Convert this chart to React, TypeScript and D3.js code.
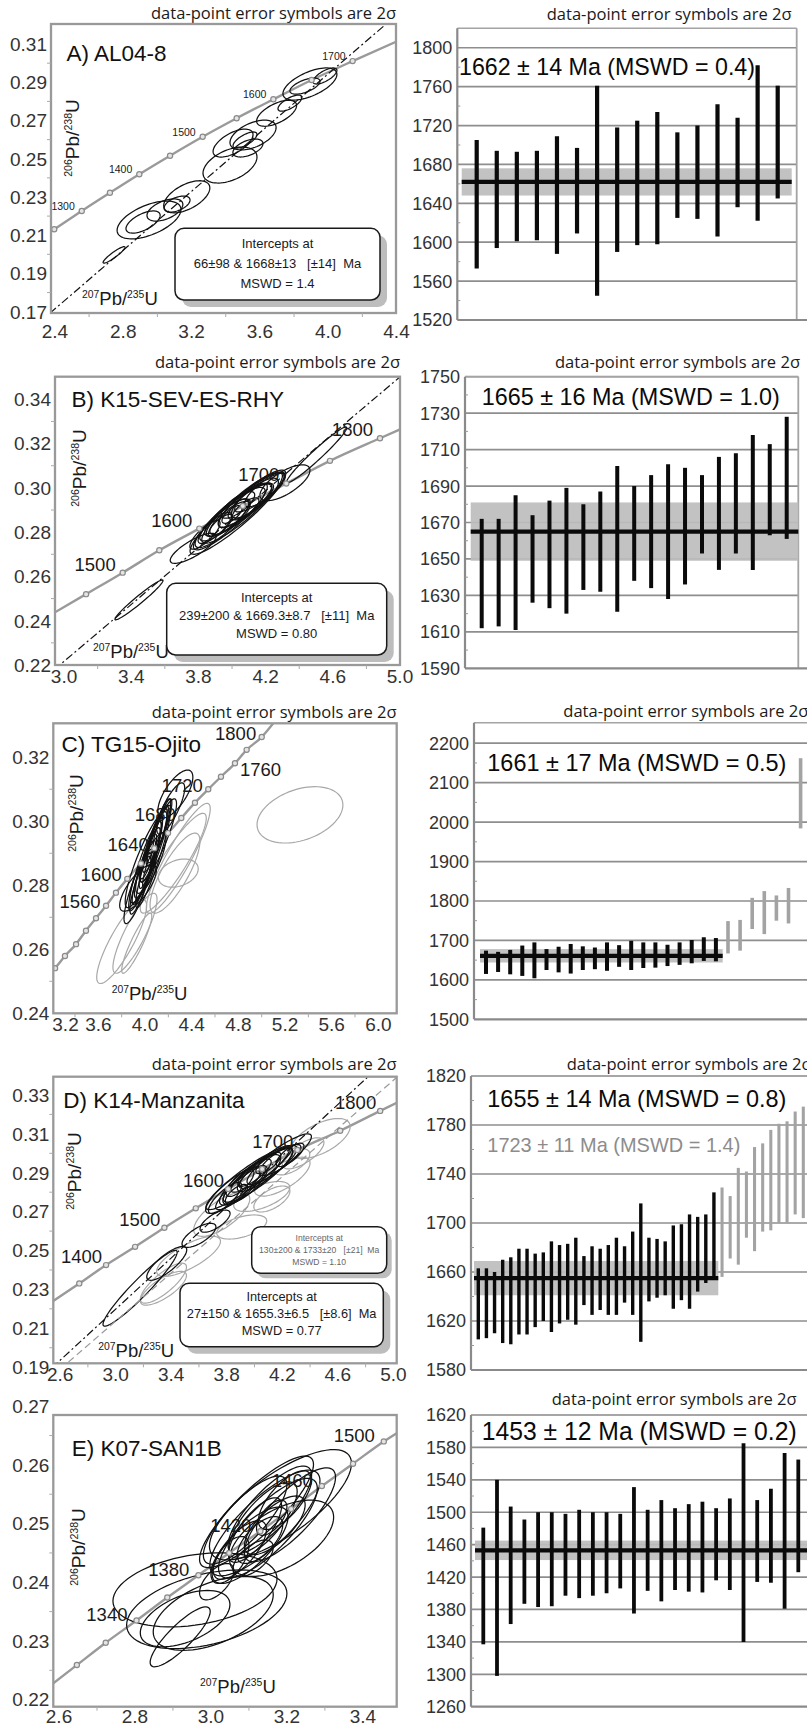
import React from 'react';
import * as d3 from 'd3';

const SANS = 'Liberation Sans, Arial, Helvetica, sans-serif';
const HUMANIST = 'Open Sans, Noto Sans, sans-serif';
const SUBTITLE = 'data-point error symbols are 2σ';

type Pt = [number, number];
// ellipse: [207Pb/235U, 206Pb/238U, half-extent x, half-extent y, error correlation]
type Ell = [number, number, number, number, number];

// ---------------- A) AL04-8 ----------------
const aMarkerAges = [1250, 1300, 1350, 1400, 1450, 1500, 1550, 1600, 1650, 1700];
const aMarkerPts: Pt[] = [[2.396, 0.2131], [2.557, 0.2227], [2.722, 0.2322], [2.894, 0.2419], [3.074, 0.2516], [3.265, 0.2615], [3.464, 0.2712], [3.679, 0.2811], [3.903, 0.2912], [4.143, 0.3011]];
const aCurveEnds: Pt[] = [[2.377, 0.2120], [4.397, 0.3112]];
const aLabelAges = [1300, 1400, 1500, 1600, 1700];
const aEllipses: Ell[] = [
  [2.746, 0.1997, 0.064, 0.0043, 0.92], [2.951, 0.2180, 0.187, 0.0099, 0.55], [2.916, 0.2169, 0.100, 0.0058, 0.6],
  [3.044, 0.2232, 0.105, 0.0058, 0.5], [3.172, 0.2301, 0.135, 0.0084, 0.55], [3.115, 0.2263, 0.076, 0.0042, 0.5],
  [3.425, 0.2467, 0.158, 0.0094, 0.45], [3.443, 0.2582, 0.117, 0.0073, 0.6], [3.560, 0.2624, 0.135, 0.0078, 0.5],
  [3.513, 0.2598, 0.070, 0.0042, 0.7], [3.530, 0.2556, 0.088, 0.0047, 0.5], [3.698, 0.2738, 0.117, 0.0068, 0.6],
  [3.893, 0.2891, 0.158, 0.0084, 0.6], [3.864, 0.2880, 0.088, 0.0042, 0.6], [3.981, 0.2933, 0.070, 0.0042, 0.7],
  [3.776, 0.2791, 0.070, 0.0042, 0.7],
];
const aDiscordia: Pt[] = [[2.37, 0.16915], [4.45, 0.3290]];
const aXTicks = [2.4, 2.8, 3.2, 3.6, 4.0, 4.4];
const aYTicks = [0.17, 0.19, 0.21, 0.23, 0.25, 0.27, 0.29, 0.31];
const aIntercept = ['Intercepts at', '66±98 & 1668±13   [±14]  Ma', 'MSWD = 1.4'];
const aAgeLo = [1573, 1594, 1601, 1602, 1588, 1609, 1545, 1590, 1597, 1598, 1625, 1624, 1606, 1636, 1622, 1645];
const aAgeHi = [1705, 1694, 1693, 1694, 1709, 1697, 1761, 1718, 1725, 1734, 1713, 1720, 1742, 1728, 1782, 1761];
const aMean = { age: 1662, err: 14, mswd: '0.4' };
const aAgeTicks = [1520, 1560, 1600, 1640, 1680, 1720, 1760, 1800];

// ---------------- B) K15-SEV-ES-RHY ----------------
const bMarkerAges = [1450, 1500, 1550, 1600, 1650, 1700, 1750, 1800];
const bMarkerPts: Pt[] = [[3.131, 0.2520], [3.349, 0.2617], [3.567, 0.2718], [3.805, 0.2816], [4.064, 0.2918], [4.323, 0.3020], [4.583, 0.3122], [4.881, 0.3224]];
const bCurveEnds: Pt[] = [[2.946, 0.2438], [5.0, 0.3264]];
const bLabelAges = [1500, 1600, 1700, 1800];
const bEllipses: Ell[] = [
  [3.446, 0.2494, 0.143, 0.0090, 0.97], [3.769, 0.2727, 0.137, 0.0068, 0.8], [4.504, 0.3149, 0.179, 0.0126, 0.97],
  [4.315, 0.3023, 0.149, 0.0081, 0.7], [3.898, 0.2819, 0.10, 0.0070, 0.8], [3.958, 0.2855, 0.15, 0.0095, 0.85],
  [4.017, 0.2892, 0.18, 0.0110, 0.85], [4.077, 0.2923, 0.16, 0.0100, 0.85], [4.136, 0.2954, 0.14, 0.0090, 0.8],
  [4.196, 0.2990, 0.12, 0.0075, 0.8], [4.047, 0.2901, 0.20, 0.0120, 0.88], [4.107, 0.2937, 0.13, 0.0080, 0.8],
  [3.988, 0.2864, 0.12, 0.0075, 0.8], [3.839, 0.2788, 0.09, 0.0065, 0.8], [4.166, 0.2981, 0.15, 0.0090, 0.85],
  [4.035, 0.2923, 0.10, 0.0060, 0.75], [3.930, 0.2830, 0.07, 0.0050, 0.75], [4.080, 0.2905, 0.08, 0.0050, 0.75],
  [4.000, 0.2880, 0.06, 0.0040, 0.7], [4.030, 0.2885, 0.28, 0.0185, 0.92], [3.990, 0.2870, 0.22, 0.0150, 0.9],
  [4.060, 0.2910, 0.24, 0.0160, 0.9], [3.940, 0.2840, 0.16, 0.0110, 0.85], [4.120, 0.2950, 0.20, 0.0130, 0.88],
];
const bDiscordia: Pt[] = [[2.94, 0.2178], [5.02, 0.3514]];
const bXTicks = [3.0, 3.4, 3.8, 4.2, 4.6, 5.0];
const bYTicks = [0.22, 0.24, 0.26, 0.28, 0.30, 0.32, 0.34];
const bIntercept = ['Intercepts at', '239±200 & 1669.3±8.7   [±11]  Ma', 'MSWD = 0.80'];
const bAgeLo = [1612, 1613, 1611, 1626, 1623, 1620, 1633, 1632, 1621, 1638, 1634, 1628, 1636, 1653, 1644, 1653, 1644, 1663, 1661];
const bAgeHi = [1672, 1672, 1685, 1674, 1682, 1689, 1680, 1687, 1701, 1690, 1696, 1702, 1700, 1696, 1706, 1708, 1718, 1713, 1728];
const bMean = { age: 1665, err: 16, mswd: '1.0' };
const bAgeTicks = [1590, 1610, 1630, 1650, 1670, 1690, 1710, 1730, 1750];

// ---------------- C) TG15-Ojito ----------------
const cMarkerAges = [1460, 1480, 1500, 1520, 1540, 1560, 1580, 1600, 1620, 1640, 1660, 1680, 1700, 1720, 1740, 1760, 1780, 1800];
const cMarkerPts: Pt[] = [[3.229, 0.2541], [3.314, 0.2579], [3.409, 0.2616], [3.494, 0.2658], [3.580, 0.2697], [3.666, 0.2736], [3.751, 0.2777], [3.848, 0.2820], [3.965, 0.2868], [4.079, 0.2916], [4.197, 0.2963], [4.311, 0.3010], [4.428, 0.3058], [4.542, 0.3100], [4.651, 0.3139], [4.771, 0.3181], [4.871, 0.3223], [5.000, 0.3263]];
const cCurveEnds: Pt[] = [[3.214, 0.2535], [5.099, 0.3306]];
const cLabelAges = [1560, 1600, 1640, 1680, 1720, 1800];
const cLabelRightAges = [1760];
const cEllipses: Ell[] = [
  [3.960, 0.2800, 0.090, 0.0090, 0.85], [3.990, 0.2840, 0.100, 0.0100, 0.88], [4.020, 0.2870, 0.110, 0.0110, 0.88],
  [4.050, 0.2900, 0.100, 0.0110, 0.9], [4.080, 0.2930, 0.120, 0.0120, 0.9], [4.100, 0.2950, 0.090, 0.0090, 0.85],
  [4.030, 0.2890, 0.070, 0.0070, 0.85], [4.060, 0.2920, 0.080, 0.0080, 0.85], [4.120, 0.2970, 0.100, 0.0100, 0.88],
  [4.000, 0.2860, 0.140, 0.0140, 0.9], [4.070, 0.2890, 0.150, 0.0160, 0.92], [3.940, 0.2790, 0.120, 0.0110, 0.85],
  [4.150, 0.2990, 0.080, 0.0080, 0.85], [4.040, 0.2850, 0.060, 0.0060, 0.8], [4.090, 0.2960, 0.060, 0.0060, 0.8],
  [3.940, 0.2792, 0.157, 0.0073, 0.75], [4.260, 0.3085, 0.150, 0.0075, 0.7], [4.220, 0.3040, 0.120, 0.0080, 0.8],
  [4.010, 0.2880, 0.180, 0.0150, 0.88], [4.110, 0.2940, 0.160, 0.0130, 0.88], [3.980, 0.2830, 0.110, 0.0085, 0.8],
  [4.050, 0.2870, 0.130, 0.0095, 0.82],
];
const cGrayEllipses: Ell[] = [
  [5.328, 0.3020, 0.368, 0.0088, 0.35], [3.800, 0.2624, 0.214, 0.0131, 0.85], [3.914, 0.2650, 0.189, 0.0125, 0.85],
  [4.285, 0.2884, 0.274, 0.0172, 0.9], [4.257, 0.2838, 0.214, 0.0125, 0.8], [4.285, 0.2838, 0.171, 0.0044, 0.3],
  [4.242, 0.2869, 0.283, 0.0156, 0.9], [3.929, 0.2619, 0.129, 0.0094, 0.9],
];
const cXTicks = [3.2, 3.6, 4.0, 4.4, 4.8, 5.2, 5.6, 6.0];
const cYTicks = [0.24, 0.26, 0.28, 0.30, 0.32];
const cAgeLo = [1615, 1620, 1614, 1610, 1604, 1625, 1619, 1616, 1625, 1627, 1623, 1633, 1625, 1630, 1631, 1635, 1638, 1642, 1648, 1647];
const cAgeHi = [1674, 1671, 1676, 1687, 1695, 1678, 1684, 1691, 1685, 1682, 1695, 1688, 1699, 1695, 1695, 1689, 1695, 1701, 1708, 1706];
const cRejectLo = [1667, 1674, 1729, 1716, 1750, 1743, 1984];
const cRejectHi = [1749, 1752, 1808, 1825, 1814, 1833, 2162];
const cMean = { age: 1661, err: 17, mswd: '0.5' };
const cAgeTicks = [1500, 1600, 1700, 1800, 1900, 2000, 2100, 2200];

// ---------------- D) K14-Manzanita ----------------
const dMarkerAges = [1350, 1400, 1450, 1500, 1550, 1600, 1650, 1700, 1750, 1800];
const dMarkerPts: Pt[] = [[2.738, 0.2331], [2.931, 0.2425], [3.140, 0.2519], [3.351, 0.2617], [3.577, 0.2717], [3.810, 0.2816], [4.055, 0.2919], [4.309, 0.3017], [4.617, 0.3116], [4.905, 0.3218]];
const dCurveEnds: Pt[] = [[2.551, 0.2240], [5.024, 0.3260]];
const dLabelAges = [1400, 1500, 1600, 1700, 1800];
const dEllipses: Ell[] = [
  [3.176, 0.2306, 0.267, 0.0195, 0.95], [3.368, 0.2434, 0.144, 0.0087, 0.8], [3.600, 0.2578, 0.122, 0.0062, 0.7],
  [3.716, 0.2651, 0.108, 0.0057, 0.7], [3.848, 0.2811, 0.20, 0.0120, 0.85], [3.968, 0.2863, 0.22, 0.0130, 0.85],
  [4.076, 0.2914, 0.20, 0.0110, 0.85], [4.184, 0.2966, 0.15, 0.0080, 0.8], [4.256, 0.2992, 0.10, 0.0060, 0.75],
  [3.932, 0.2837, 0.16, 0.0100, 0.8], [3.788, 0.2770, 0.12, 0.0080, 0.8], [4.126, 0.2940, 0.18, 0.0100, 0.85],
  [4.025, 0.2889, 0.25, 0.0140, 0.88], [3.896, 0.2848, 0.10, 0.0070, 0.75], [4.000, 0.2900, 0.12, 0.0070, 0.8],
  [4.100, 0.2950, 0.09, 0.0055, 0.75], [3.870, 0.2790, 0.08, 0.0050, 0.7], [3.950, 0.2870, 0.30, 0.0160, 0.92],
  [4.150, 0.2960, 0.26, 0.0140, 0.9], [4.050, 0.2920, 0.22, 0.0120, 0.9], [3.900, 0.2820, 0.18, 0.0110, 0.88],
];
const dGrayEllipses: Ell[] = [
  [4.473, 0.3076, 0.216, 0.0103, 0.6], [4.268, 0.2956, 0.130, 0.0067, 0.6], [4.125, 0.2765, 0.130, 0.0067, 0.6],
  [3.908, 0.2621, 0.180, 0.0062, 0.5], [3.525, 0.2470, 0.230, 0.0103, 0.75], [3.344, 0.2332, 0.166, 0.0103, 0.8],
  [3.764, 0.2686, 0.202, 0.0113, 0.7], [4.052, 0.2778, 0.202, 0.0077, 0.6], [3.344, 0.2306, 0.166, 0.0087, 0.75],
  [4.200, 0.2880, 0.200, 0.0100, 0.7], [4.350, 0.3000, 0.150, 0.0080, 0.7],
];
const dDiscordia: Pt[] = [[2.54, 0.1896], [4.90, 0.3448]];
const dDiscordiaOld: Pt[] = [[2.60, 0.1889], [5.03, 0.3394]];
const dXTicks = [2.6, 3.0, 3.4, 3.8, 4.2, 4.6, 5.0];
const dYTicks = [0.19, 0.21, 0.23, 0.25, 0.27, 0.29, 0.31, 0.33];
const dInterceptOld = ['Intercepts at', '130±200 & 1733±20   [±21]  Ma', 'MSWD = 1.10'];
const dIntercept = ['Intercepts at', '27±150 & 1655.3±6.5   [±8.6]  Ma', 'MSWD = 0.77'];
const dAgeLo = [1605, 1606, 1610, 1602, 1601, 1609, 1609, 1615, 1620, 1611, 1618, 1621, 1617, 1633, 1625, 1629, 1625, 1625, 1635, 1625, 1603, 1636, 1639, 1641, 1630, 1637, 1630, 1644, 1651, 1654];
const dAgeHi = [1663, 1663, 1660, 1670, 1672, 1679, 1679, 1675, 1676, 1685, 1682, 1683, 1688, 1673, 1681, 1679, 1682, 1688, 1681, 1693, 1716, 1688, 1687, 1685, 1698, 1699, 1707, 1705, 1707, 1725];
const dOldLo = [1656, 1671, 1666, 1688, 1677, 1693, 1694, 1700, 1700, 1707, 1704];
const dOldHi = [1729, 1722, 1745, 1742, 1762, 1765, 1776, 1781, 1783, 1791, 1795];
const dMean = { age: 1655, err: 14, mswd: '0.8' };
const dOldMean = { age: 1723, err: 11, mswd: '1.4' };
const dAgeTicks = [1580, 1620, 1660, 1700, 1740, 1780, 1820];

// ---------------- E) K07-SAN1B ----------------
const eMarkerAges = [1300, 1320, 1340, 1360, 1380, 1400, 1420, 1440, 1460, 1480, 1500];
const eMarkerPts: Pt[] = [[2.647, 0.2259], [2.723, 0.2297], [2.804, 0.2335], [2.885, 0.2374], [2.967, 0.2412], [3.048, 0.2450], [3.130, 0.2487], [3.211, 0.2525], [3.292, 0.2564], [3.374, 0.2602], [3.455, 0.2640]];
const eCurveEnds: Pt[] = [[2.585, 0.2228], [3.489, 0.2654]];
const eLabelAges = [1340, 1380, 1420, 1460, 1500];
const eEllipses: Ell[] = [
  [2.958, 0.2387, 0.216, 0.0063, 0.3], [2.989, 0.2354, 0.211, 0.0067, 0.4], [2.932, 0.2338, 0.118, 0.0048, 0.5],
  [2.919, 0.2307, 0.079, 0.0051, 0.85], [3.006, 0.2347, 0.158, 0.0063, 0.5], [3.183, 0.2532, 0.187, 0.0094, 0.75],
  [3.186, 0.2475, 0.137, 0.0065, 0.55], [3.142, 0.2501, 0.145, 0.0090, 0.8], [3.015, 0.2401, 0.045, 0.0031, 0.6],
  [3.111, 0.2441, 0.053, 0.0031, 0.6], [3.137, 0.2506, 0.09, 0.0065, 0.75], [3.116, 0.2489, 0.07, 0.0055, 0.75],
  [3.155, 0.2523, 0.11, 0.0075, 0.8], [3.168, 0.2497, 0.08, 0.0050, 0.7], [3.103, 0.2463, 0.10, 0.0065, 0.75],
  [3.195, 0.2540, 0.07, 0.0050, 0.7], [3.090, 0.2506, 0.11, 0.0075, 0.8], [3.129, 0.2472, 0.06, 0.0040, 0.65],
  [3.076, 0.2455, 0.07, 0.0050, 0.7], [3.208, 0.2515, 0.12, 0.0080, 0.8], [3.150, 0.2492, 0.13, 0.0085, 0.8],
  [3.050, 0.2438, 0.05, 0.0040, 0.6], [3.160, 0.2510, 0.04, 0.0030, 0.6], [3.120, 0.2520, 0.15, 0.0095, 0.85],
];
const eXTicks = [2.6, 2.8, 3.0, 3.2, 3.4];
const eYTicks = [0.22, 0.23, 0.24, 0.25, 0.26, 0.27];
const eAgeLo = [1337, 1298, 1362, 1387, 1383, 1384, 1397, 1394, 1397, 1400, 1406, 1375, 1403, 1390, 1404, 1402, 1401, 1416, 1404, 1340, 1414, 1413, 1381, 1426];
const eAgeHi = [1481, 1540, 1507, 1491, 1500, 1500, 1498, 1503, 1500, 1500, 1498, 1531, 1503, 1515, 1505, 1510, 1513, 1505, 1517, 1585, 1515, 1529, 1573, 1565];
const eMean = { age: 1453, err: 12, mswd: '0.2' };
const eAgeTicks = [1260, 1300, 1340, 1380, 1420, 1460, 1500, 1540, 1580, 1620];

// ------------------------------------------------------------

interface Frame { x0: number; x1: number; y0: number; y1: number }
type Scale = d3.ScaleLinear<number, number>;

const lineGen = d3.line<Pt>();

function ellipsePath(e: Ell, xs: Scale, ys: Scale) {
  const [cx, cy, ex, ey, rho] = e;
  const s = Math.sqrt(1 - rho * rho);
  const pts: Pt[] = d3.range(72).map((i) => {
    const t = (i / 72) * Math.PI * 2;
    return [xs(cx + ex * Math.cos(t)), ys(cy + ey * (rho * Math.cos(t) + s * Math.sin(t)))];
  });
  return d3.line<Pt>().curve(d3.curveLinearClosed)(pts) || '';
}

function RatioText(props: { x: number; y: number; num: string; a: string; den: string; b: string; size: number; rotate?: boolean; anchor?: string }) {
  const { x, y, num, a, den, b, size, rotate, anchor } = props;
  const sup = size * 0.56;
  const up = size * 0.38;
  return (
    <text
      x={rotate ? 0 : x}
      y={rotate ? 0 : y}
      transform={rotate ? `translate(${x},${y}) rotate(-90)` : undefined}
      textAnchor={anchor || 'start'}
      fontFamily={SANS}
      fontSize={size}
      fill="#1a1a1a"
    >
      <tspan fontSize={sup} dy={-up}>{num}</tspan>
      <tspan dy={up}>{a}</tspan>
      <tspan fontSize={sup} dy={-up}>{den}</tspan>
      <tspan dy={up}>{b}</tspan>
    </text>
  );
}

function InterceptBox(props: { x: number; y: number; w: number; h: number; lines: string[]; size: number; offsets: number[]; color?: string; shadow?: number }) {
  const { x, y, w, h, lines, size, offsets, color, shadow } = props;
  const sh = shadow ?? 7;
  return (
    <g>
      <rect x={x + sh} y={y + sh} width={w} height={h} rx={9} fill="#bdbdbd" />
      <rect x={x} y={y} width={w} height={h} rx={9} fill="#fff" stroke="#1a1a1a" strokeWidth={1.5} />
      {lines.map((t, i) => (
        <text key={i} x={x + w / 2} y={y + offsets[i]} textAnchor="middle" fontFamily={SANS} fontSize={size}
          fill={color || '#1a1a1a'} style={{ whiteSpace: 'pre' }}>{t}</text>
      ))}
    </g>
  );
}

interface ConcordiaProps {
  id: string;
  frame: Frame;
  xDomain: Pt;
  yDomain: Pt;
  xTicks: number[];
  yTicks: number[];
  xDigits: number;
  yDigits: number;
  xLabelGap: number;
  markerAges: number[];
  markerPts: Pt[];
  curveEnds: Pt[];
  labelAges: number[];
  labelRightAges?: number[];
  labelSize: number;
  labelDx: number;
  labelDy: number;
  ellipses: Ell[];
  grayEllipses?: Ell[];
  discordia?: Pt[];
  discordiaOld?: Pt[];
  title: string;
  titlePos: Pt;
  yTitlePos: Pt;
  xTitlePos: Pt;
  subtitleY?: number;
  children?: React.ReactNode;
}

function ConcordiaPanel(p: ConcordiaProps) {
  const { frame } = p;
  const xs = d3.scaleLinear().domain(p.xDomain).range([frame.x0, frame.x1]);
  const ys = d3.scaleLinear().domain(p.yDomain).range([frame.y1, frame.y0]);
  const curve = d3.line<Pt>().x((d) => xs(d[0])).y((d) => ys(d[1])).curve(d3.curveMonotoneX);
  const curvePts: Pt[] = [p.curveEnds[0], ...p.markerPts, p.curveEnds[1]];
  const straight = (pts: Pt[]) => lineGen(pts.map((d) => [xs(d[0]), ys(d[1])] as Pt)) || '';
  const xStep = p.xTicks[1] - p.xTicks[0];
  const yStep = p.yTicks[1] - p.yTicks[0];
  const xMinor = p.xTicks.map((t) => t + xStep / 2).filter((t) => xs(t) < frame.x1 - 2 && xs(t) > frame.x0 + 2);
  const yMinor = p.yTicks.map((t) => t + yStep / 2).filter((t) => ys(t) > frame.y0 + 2 && ys(t) < frame.y1 - 2);
  const clip = `clip-${p.id}`;
  return (
    <g>
      <defs>
        <clipPath id={clip}>
          <rect x={frame.x0} y={frame.y0} width={frame.x1 - frame.x0} height={frame.y1 - frame.y0} />
        </clipPath>
      </defs>
      {p.subtitleY !== undefined && (
        <text x={frame.x1} y={p.subtitleY} textAnchor="end" fontFamily={HUMANIST} fontSize={15.5} fill="#1a1a1a"
          textLength={245} lengthAdjust="spacingAndGlyphs">{SUBTITLE}</text>
      )}
      <g clipPath={`url(#${clip})`}>
        <path d={curve(curvePts) || ''} fill="none" stroke="#9a9a9a" strokeWidth={2.4} />
        {(p.grayEllipses || []).map((e, i) => (
          <path key={`g${i}`} d={ellipsePath(e, xs, ys)} fill="none" stroke="#a8a8a8" strokeWidth={1.2} />
        ))}
        {p.ellipses.map((e, i) => (
          <path key={`e${i}`} d={ellipsePath(e, xs, ys)} fill="none" stroke="#111" strokeWidth={1.25} />
        ))}
        {p.discordiaOld && (
          <path d={straight(p.discordiaOld)} fill="none" stroke="#9a9a9a" strokeWidth={1.2} strokeDasharray="7,4" />
        )}
        {p.discordia && (
          <path d={straight(p.discordia)} fill="none" stroke="#111" strokeWidth={1.2} strokeDasharray="8,3,2,3" />
        )}
        {p.markerPts.map((d, i) => (
          <circle key={`m${i}`} cx={xs(d[0])} cy={ys(d[1])} r={2.6} fill="#e4e4e4" stroke="#8a8a8a" strokeWidth={1.2} />
        ))}
      </g>
      {p.labelAges.map((age) => {
        const i = p.markerAges.indexOf(age);
        const d = p.markerPts[i];
        return (
          <text key={`l${age}`} x={xs(d[0]) + p.labelDx} y={ys(d[1]) + p.labelDy} textAnchor="end"
            fontFamily={SANS} fontSize={p.labelSize} fill="#1a1a1a">{age}</text>
        );
      })}
      {(p.labelRightAges || []).map((age) => {
        const i = p.markerAges.indexOf(age);
        const d = p.markerPts[i];
        return (
          <text key={`r${age}`} x={xs(d[0]) + 5} y={ys(d[1]) + 12.5} textAnchor="start"
            fontFamily={SANS} fontSize={p.labelSize} fill="#1a1a1a">{age}</text>
        );
      })}
      <rect x={frame.x0} y={frame.y0} width={frame.x1 - frame.x0} height={frame.y1 - frame.y0} fill="none"
        stroke="#999" strokeWidth={2.3} />
      {xMinor.map((t, i) => (
        <line key={`xm${i}`} x1={xs(t)} x2={xs(t)} y1={frame.y1} y2={frame.y1 + 4} stroke="#aaa" strokeWidth={1} />
      ))}
      {yMinor.map((t, i) => (
        <line key={`ym${i}`} x1={frame.x0 - 4} x2={frame.x0} y1={ys(t)} y2={ys(t)} stroke="#aaa" strokeWidth={1} />
      ))}
      {p.yTicks.map((t) => (
        <text key={`yt${t}`} x={frame.x0 - 4} y={ys(t)} dy="0.36em" textAnchor="end" fontFamily={SANS} fontSize={19}
          fill="#333">{t.toFixed(p.yDigits)}</text>
      ))}
      {p.xTicks.map((t) => {
        const atEdge = xs(t) < frame.x0 + 0.5;
        return (
          <text key={`xt${t}`} x={atEdge ? frame.x0 - 1 : xs(t)} y={frame.y1 + p.xLabelGap} textAnchor={atEdge ? 'start' : 'middle'}
            fontFamily={SANS} fontSize={19} fill="#333">{t.toFixed(p.xDigits)}</text>
        );
      })}
      <text x={p.titlePos[0]} y={p.titlePos[1]} fontFamily={SANS} fontSize={22.5} fill="#111">{p.title}</text>
      <RatioText x={p.yTitlePos[0]} y={p.yTitlePos[1]} num="206" a="Pb/" den="238" b="U" size={19} rotate anchor="middle" />
      <RatioText x={p.xTitlePos[0]} y={p.xTitlePos[1]} num="207" a="Pb/" den="235" b="U" size={18.5} />
      {p.children}
    </g>
  );
}

interface MeanProps {
  frame: Frame;
  yDomain: Pt;
  ticks: number[];
  lo: number[];
  hi: number[];
  rejectLo?: number[];
  rejectHi?: number[];
  barRange: Pt;
  meanRange: Pt;
  barWidth: number;
  mean: { age: number; err: number; mswd: string };
  labelPos: Pt;
  labelSize: number;
  labelWidth: number;
  subtitlePos: Pt;
  rightFrame?: boolean;
  children?: (ys: Scale) => React.ReactNode;
}

function MeanPanel(p: MeanProps) {
  const { frame } = p;
  const ys = d3.scaleLinear().domain(p.yDomain).range([frame.y1, frame.y0]);
  const n = p.lo.length + (p.rejectLo ? p.rejectLo.length : 0);
  const xb = d3.scalePoint<number>().domain(d3.range(n)).range(p.barRange);
  const step = p.ticks[1] - p.ticks[0];
  const minor = p.ticks.map((t) => t + step / 2).filter((t) => ys(t) > frame.y0 + 2);
  const { age, err, mswd } = p.mean;
  return (
    <g>
      <text x={p.subtitlePos[0]} y={p.subtitlePos[1]} fontFamily={HUMANIST} fontSize={15.5} fill="#1a1a1a"
        textLength={245} lengthAdjust="spacingAndGlyphs">{SUBTITLE}</text>
      {p.ticks.slice(1).map((t) => (
        <line key={`g${t}`} x1={frame.x0} x2={frame.x1} y1={ys(t)} y2={ys(t)} stroke="#8e8e8e" strokeWidth={1.7} />
      ))}
      <line x1={frame.x0} x2={frame.x1} y1={frame.y0} y2={frame.y0} stroke="#a4a4a4" strokeWidth={1.6} />
      {p.rightFrame && (
        <line x1={frame.x1} x2={frame.x1} y1={frame.y0} y2={frame.y1} stroke="#a4a4a4" strokeWidth={1.8} />
      )}
      <rect x={p.meanRange[0]} width={p.meanRange[1] - p.meanRange[0]} y={ys(age + err)} height={ys(age - err) - ys(age + err)}
        fill="#bdbdbd" opacity={0.92} />
      <text x={p.labelPos[0]} y={p.labelPos[1]} fontFamily={SANS} fontSize={p.labelSize} fill="#0a0a0a"
        textLength={p.labelWidth} lengthAdjust="spacingAndGlyphs">
        {`${age} ± ${err} Ma (MSWD = ${mswd})`}
      </text>
      {p.children && p.children(ys)}
      {(p.rejectLo || []).map((lo, i) => (
        <line key={`r${i}`} x1={xb(p.lo.length + i)} x2={xb(p.lo.length + i)} y1={ys(lo)} y2={ys((p.rejectHi as number[])[i])}
          stroke="#a3a3a3" strokeWidth={p.barWidth * 0.9} />
      ))}
      {p.lo.map((lo, i) => (
        <line key={`b${i}`} x1={xb(i)} x2={xb(i)} y1={ys(lo)} y2={ys(p.hi[i])} stroke="#0a0a0a" strokeWidth={p.barWidth} />
      ))}
      <line x1={p.meanRange[0]} x2={p.meanRange[1]} y1={ys(age)} y2={ys(age)} stroke="#0a0a0a" strokeWidth={4.2} />
      <line x1={frame.x0} x2={frame.x0} y1={frame.y0} y2={frame.y1} stroke="#8a8a8a" strokeWidth={2.2} />
      <line x1={frame.x0} x2={807} y1={frame.y1} y2={frame.y1} stroke="#8a8a8a" strokeWidth={2.2} />
      {minor.map((t, i) => (
        <line key={`m${i}`} x1={frame.x0} x2={frame.x0 + 3} y1={ys(t)} y2={ys(t)} stroke="#999" strokeWidth={1} />
      ))}
      {p.ticks.map((t) => (
        <text key={`t${t}`} x={frame.x0 - 5} y={ys(t)} dy="0.36em" textAnchor="end" fontFamily={SANS} fontSize={18}
          fill="#333">{t}</text>
      ))}
    </g>
  );
}

export default function App() {
  return (
    <div style={{ position: 'absolute', left: 0, top: 0 }}>
      <svg width={807} height={1728} viewBox="0 0 807 1728" style={{ display: 'block', background: '#fff' }}>
        <rect width={807} height={1728} fill="#fff" />

        {/* Row A */}
        <ConcordiaPanel id="a" frame={{ x0: 51, x1: 396, y0: 24, y1: 313 }} xDomain={[2.377, 4.397]} yDomain={[0.1693, 0.3205]}
          xTicks={aXTicks} yTicks={aYTicks} xDigits={1} yDigits={2} xLabelGap={25}
          markerAges={aMarkerAges} markerPts={aMarkerPts} curveEnds={aCurveEnds} labelAges={aLabelAges}
          labelSize={10.5} labelDx={-7} labelDy={-1} ellipses={aEllipses} discordia={aDiscordia}
          title="A) AL04-8" titlePos={[66.5, 60.5]} yTitlePos={[79, 138]} xTitlePos={[82, 305]} subtitleY={18.5}>
          <InterceptBox x={175} y={228.3} w={205} h={71.7} lines={aIntercept} size={13} offsets={[19.7, 39.7, 59.7]} />
        </ConcordiaPanel>
        <MeanPanel frame={{ x0: 457.3, x1: 796.7, y0: 28.3, y1: 320 }} yDomain={[1520, 1820]} ticks={aAgeTicks}
          lo={aAgeLo} hi={aAgeHi} barRange={[476.7, 777.7]} meanRange={[461.7, 791.7]} barWidth={4.2}
          mean={aMean} labelPos={[459, 75]} labelSize={24.5} labelWidth={296} subtitlePos={[546.7, 19.5]} rightFrame />

        {/* Row B */}
        <ConcordiaPanel id="b" frame={{ x0: 55, x1: 400, y0: 376.7, y1: 665 }} xDomain={[2.946, 5.0]} yDomain={[0.22, 0.3502]}
          xTicks={bXTicks} yTicks={bYTicks} xDigits={1} yDigits={2} xLabelGap={18}
          markerAges={bMarkerAges} markerPts={bMarkerPts} curveEnds={bCurveEnds} labelAges={bLabelAges}
          labelSize={18.5} labelDx={-7} labelDy={-2} ellipses={bEllipses} discordia={bDiscordia}
          title="B) K15-SEV-ES-RHY" titlePos={[71.5, 406.5]} yTitlePos={[86, 468]} xTitlePos={[93, 658]} subtitleY={368.3}>
          <InterceptBox x={166.7} y={583.3} w={220} h={71.7} lines={bIntercept} size={13} offsets={[18.4, 36.7, 55]} />
        </ConcordiaPanel>
        <MeanPanel frame={{ x0: 465, x1: 798.3, y0: 376.7, y1: 668.3 }} yDomain={[1590, 1750]} ticks={bAgeTicks}
          lo={bAgeLo} hi={bAgeHi} barRange={[481.7, 786.7]} meanRange={[470.7, 798.3]} barWidth={4}
          mean={bMean} labelPos={[481.7, 405]} labelSize={24.5} labelWidth={298} subtitlePos={[555, 368.3]} rightFrame />

        {/* Row C */}
        <ConcordiaPanel id="c" frame={{ x0: 53.3, x1: 396.7, y0: 723.3, y1: 1013.3 }} xDomain={[3.214, 6.157]} yDomain={[0.24, 0.3306]}
          xTicks={cXTicks} yTicks={cYTicks} xDigits={1} yDigits={2} xLabelGap={18}
          markerAges={cMarkerAges} markerPts={cMarkerPts} curveEnds={cCurveEnds} labelAges={cLabelAges}
          labelRightAges={cLabelRightAges} labelSize={18.5} labelDx={-5.5} labelDy={2.5}
          ellipses={cEllipses} grayEllipses={cGrayEllipses}
          title="C) TG15-Ojito" titlePos={[61.5, 751.5]} yTitlePos={[83, 813]} xTitlePos={[111.7, 1000]} subtitleY={718.3} />
        <MeanPanel frame={{ x0: 474, x1: 830, y0: 722.7, y1: 1019.3 }} yDomain={[1500, 2252]} ticks={cAgeTicks}
          lo={cAgeLo} hi={cAgeHi} rejectLo={cRejectLo} rejectHi={cRejectHi} barRange={[486, 800.6]} meanRange={[480, 722.7]}
          barWidth={4} mean={cMean} labelPos={[487.3, 770.7]} labelSize={24.5} labelWidth={299} subtitlePos={[563.3, 716.7]} />

        {/* Row D */}
        <ConcordiaPanel id="d" frame={{ x0: 53.3, x1: 396.7, y0: 1076.7, y1: 1363.3 }} xDomain={[2.551, 5.024]} yDomain={[0.192, 0.3394]}
          xTicks={dXTicks} yTicks={dYTicks} xDigits={1} yDigits={2} xLabelGap={18}
          markerAges={dMarkerAges} markerPts={dMarkerPts} curveEnds={dCurveEnds} labelAges={dLabelAges}
          labelSize={18.5} labelDx={-4} labelDy={-2} ellipses={dEllipses} grayEllipses={dGrayEllipses}
          discordia={dDiscordia} discordiaOld={dDiscordiaOld}
          title="D) K14-Manzanita" titlePos={[63.3, 1108.3]} yTitlePos={[81, 1171]} xTitlePos={[98.3, 1356.7]} subtitleY={1070}>
          <InterceptBox x={251.7} y={1226.7} w={135} h={46.6} lines={dInterceptOld} size={8.6} offsets={[14, 26, 38.3]}
            color="#666" shadow={5} />
          <InterceptBox x={180} y={1283.3} w={203.3} h={63.4} lines={dIntercept} size={12.8} offsets={[17.4, 35, 51.7]} />
        </ConcordiaPanel>
        <MeanPanel frame={{ x0: 471, x1: 830, y0: 1076, y1: 1370 }} yDomain={[1580, 1820]} ticks={dAgeTicks}
          lo={dAgeLo} hi={dAgeHi} rejectLo={dOldLo} rejectHi={dOldHi} barRange={[478.3, 803.3]} meanRange={[474, 718.3]}
          barWidth={3.4} mean={dMean} labelPos={[487.3, 1107.3]} labelSize={24.5} labelWidth={299} subtitlePos={[566.7, 1070]}>
          {() => (
            <text x={487.3} y={1151.7} fontFamily={SANS} fontSize={21} fill="#8c8c8c" textLength={253} lengthAdjust="spacingAndGlyphs">
              {`${dOldMean.age} ± ${dOldMean.err} Ma (MSWD = ${dOldMean.mswd})`}
            </text>
          )}
        </MeanPanel>

        {/* Row E */}
        <ConcordiaPanel id="e" frame={{ x0: 53.3, x1: 396.7, y0: 1415, y1: 1706.7 }} xDomain={[2.585, 3.489]} yDomain={[0.2188, 0.2685]}
          xTicks={eXTicks} yTicks={eYTicks} xDigits={1} yDigits={2} xLabelGap={16}
          markerAges={eMarkerAges} markerPts={eMarkerPts} curveEnds={eCurveEnds} labelAges={eLabelAges}
          labelSize={18.5} labelDx={-9} labelDy={1} ellipses={eEllipses}
          title="E) K07-SAN1B" titlePos={[71.7, 1456]} yTitlePos={[85, 1547]} xTitlePos={[200, 1693.3]} />
        <MeanPanel frame={{ x0: 471, x1: 830, y0: 1415, y1: 1706.7 }} yDomain={[1260, 1620]} ticks={eAgeTicks}
          lo={eAgeLo} hi={eAgeHi} barRange={[483.3, 798.3]} meanRange={[475, 830]} barWidth={3.8}
          mean={eMean} labelPos={[481.7, 1440]} labelSize={26} labelWidth={315} subtitlePos={[551.7, 1405]} />
      </svg>
    </div>
  );
}
